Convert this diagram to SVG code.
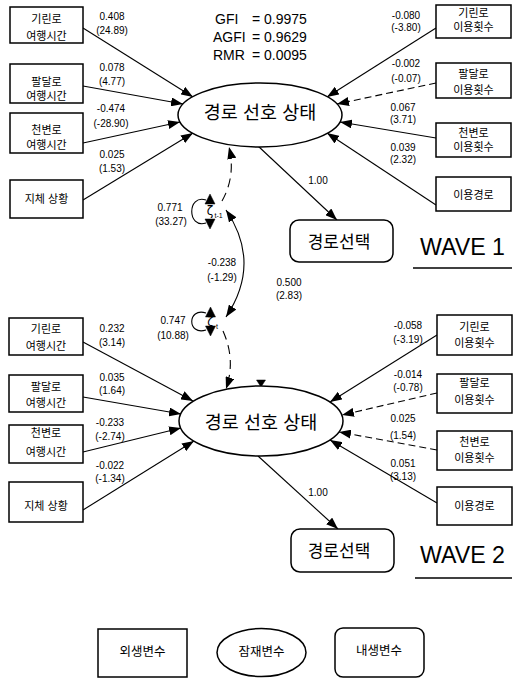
<svg xmlns="http://www.w3.org/2000/svg" width="514" height="679" viewBox="0 0 514 679">
<defs>
<style>
.box{fill:#fff;stroke:#000;stroke-width:1.5}
.ell{fill:#fff;stroke:#000;stroke-width:1.5}
.kr{font-family:"Liberation Sans","Noto Sans CJK KR",sans-serif;fill:#000;text-anchor:middle}
.bt{font-size:11px}
.num{font-family:"Liberation Sans",Arial,sans-serif;font-size:10px;text-anchor:middle;fill:#000}
.fit{font-family:"Liberation Sans",Arial,sans-serif;font-size:14px;fill:#000}
.ln{stroke:#000;stroke-width:1.1;fill:none}
.arr{marker-end:url(#ah)}
.both{marker-start:url(#ah);marker-end:url(#ah)}
.dash{stroke-dasharray:7 4}
.dash2{stroke-dasharray:9 6}
.tri{fill:#000;stroke:#000;stroke-width:0.5}
.z{font-family:"DejaVu Sans",sans-serif;font-size:12px;text-anchor:middle;fill:#000}
.zs{font-family:"Liberation Sans",sans-serif;font-size:7px;fill:#000}
.wave{font-family:"Liberation Sans",Arial,sans-serif;font-size:24px;fill:#000}
</style>
<marker id="ah" viewBox="0 0 12 9" refX="12" refY="4.5" markerWidth="12" markerHeight="9" markerUnits="userSpaceOnUse" orient="auto-start-reverse"><path d="M0,0L12,4.5L0,9z" fill="#000"/></marker>
</defs>

<!-- fit indices -->
<g id="fit">
<text class="fit" x="215" y="24">GFI</text><text class="fit" x="252" y="24">= 0.9975</text>
<text class="fit" x="213" y="42">AGFI</text><text class="fit" x="252" y="42">= 0.9629</text>
<text class="fit" x="213" y="60">RMR</text><text class="fit" x="252" y="60">= 0.0095</text>
</g>

<!-- connectors -->
<g id="connectors">
<line class="ln arr" x1="83" y1="28" x2="193" y2="97"/>
<line class="ln arr" x1="83" y1="86" x2="183" y2="104"/>
<line class="ln arr" x1="83" y1="143" x2="180" y2="122"/>
<line class="ln arr" x1="83" y1="200" x2="193" y2="133"/>
<line class="ln arr" x1="436" y1="28" x2="327" y2="97"/>
<line class="ln arr dash" x1="436" y1="83" x2="337" y2="104"/>
<line class="ln arr" x1="436" y1="138" x2="340" y2="122"/>
<line class="ln arr" x1="436" y1="205" x2="327" y2="133"/>
<line class="ln arr" x1="258" y1="146" x2="337" y2="220"/>

<line class="ln arr" x1="83" y1="342" x2="193" y2="401"/>
<line class="ln arr" x1="83" y1="397" x2="181" y2="414"/>
<line class="ln arr" x1="83" y1="452" x2="181" y2="428"/>
<line class="ln arr" x1="83" y1="510" x2="194" y2="441"/>
<line class="ln arr" x1="437" y1="335" x2="330" y2="402"/>
<line class="ln arr dash" x1="437" y1="393" x2="342" y2="415"/>
<line class="ln arr dash" x1="437" y1="450" x2="339" y2="432"/>
<line class="ln arr" x1="437" y1="503" x2="330" y2="440"/>
<line class="ln arr" x1="258" y1="456" x2="338" y2="529"/>

<path class="ln arr dash2" d="M222,201 Q236,176 229,147"/>
<path class="ln arr dash2" d="M223,331 Q236,360 226,389"/>
<path class="ln both" d="M226,210 Q262,263 226,317"/>
<polygon class="tri" points="256.5,380 265.5,380 261,387"/>

<path class="ln" d="M206,200 C187,194 187,229 206,223"/>
<polygon class="tri" points="205,204 215,204 210,194"/>
<polygon class="tri" points="205,219 215,219 210,229"/>
<path class="ln" d="M206,313 C187,307 187,336 206,330"/>
<polygon class="tri" points="205.5,317 215.5,317 210.5,307"/>
<polygon class="tri" points="205.5,326 215.5,326 210.5,336"/>
</g>

<!-- coefficient labels -->
<g id="labels">
<text class="num" x="112" y="20">0.408</text><text class="num" x="112" y="34">(24.89)</text>
<text class="num" x="112" y="71">0.078</text><text class="num" x="112" y="85">(4.77)</text>
<text class="num" x="111" y="112">-0.474</text><text class="num" x="111" y="127">(-28.90)</text>
<text class="num" x="112" y="158">0.025</text><text class="num" x="112" y="172">(1.53)</text>
<text class="num" x="406" y="19">-0.080</text><text class="num" x="406" y="31">(-3.80)</text>
<text class="num" x="406" y="67">-0.002</text><text class="num" x="406" y="82">(-0.07)</text>
<text class="num" x="403" y="111">0.067</text><text class="num" x="403" y="123">(3.71)</text>
<text class="num" x="403" y="151">0.039</text><text class="num" x="403" y="163">(2.32)</text>
<text class="num" x="318" y="184">1.00</text>

<text class="num" x="170" y="211">0.771</text><text class="num" x="171" y="225">(33.27)</text>
<text class="num" x="222" y="266">-0.238</text><text class="num" x="222" y="281">(-1.29)</text>
<text class="num" x="289" y="286">0.500</text><text class="num" x="289" y="299">(2.83)</text>
<text class="num" x="173" y="324">0.747</text><text class="num" x="173" y="339">(10.88)</text>

<text class="num" x="112" y="332">0.232</text><text class="num" x="112" y="346">(3.14)</text>
<text class="num" x="112" y="381">0.035</text><text class="num" x="112" y="394">(1.64)</text>
<text class="num" x="110" y="426">-0.233</text><text class="num" x="110" y="440">(-2.74)</text>
<text class="num" x="110" y="469">-0.022</text><text class="num" x="110" y="482">(-1.34)</text>
<text class="num" x="408" y="329">-0.058</text><text class="num" x="408" y="343">(-3.19)</text>
<text class="num" x="408" y="378">-0.014</text><text class="num" x="408" y="391">(-0.78)</text>
<text class="num" x="403" y="422">0.025</text><text class="num" x="403" y="439">(1.54)</text>
<text class="num" x="403" y="467">0.051</text><text class="num" x="403" y="480">(3.13)</text>
<text class="num" x="318" y="496">1.00</text>
</g>

<!-- disturbances -->
<g id="zeta1"><text class="z" x="210" y="215">ζ</text><text class="zs" x="214.5" y="218">t-1</text></g>
<g id="zeta2"><text class="z" x="210.5" y="326">ζ</text><text class="zs" x="216" y="329">t</text></g>

<!-- WAVE 1 nodes -->
<g id="w1-x1"><rect class="box" x="10" y="7" width="73" height="36"/><text class="kr bt" x="46.5" y="22.5">기린로</text><text class="kr bt" x="46.5" y="40">여행시간</text></g>
<g id="w1-x2"><rect class="box" x="10" y="64" width="73" height="39"/><text class="kr bt" x="46.5" y="86">팔달로</text><text class="kr bt" x="46.5" y="100">여행시간</text></g>
<g id="w1-x3"><rect class="box" x="10" y="113" width="73" height="40"/><text class="kr bt" x="46.5" y="134">천변로</text><text class="kr bt" x="46.5" y="149">여행시간</text></g>
<g id="w1-x4"><rect class="box" x="10" y="180" width="73" height="38"/><text class="kr bt" x="46.5" y="203">지체 상황</text></g>
<g id="w1-y1"><rect class="box" x="436" y="5" width="75" height="33"/><text class="kr bt" x="473.5" y="17">기린로</text><text class="kr bt" x="473.5" y="31">이용횟수</text></g>
<g id="w1-y2"><rect class="box" x="436" y="63" width="75" height="35"/><text class="kr bt" x="473.5" y="78">팔달로</text><text class="kr bt" x="473.5" y="94">이용횟수</text></g>
<g id="w1-y3"><rect class="box" x="436" y="123" width="75" height="34"/><text class="kr bt" x="473.5" y="136.5">천변로</text><text class="kr bt" x="473.5" y="151">이용횟수</text></g>
<g id="w1-y4"><rect class="box" x="436" y="177" width="75" height="34"/><text class="kr bt" x="473.5" y="199">이용경로</text></g>
<g id="w1-latent"><ellipse class="ell" cx="260" cy="115" rx="82" ry="32"/><text class="kr" x="260" y="118.5" font-size="18.5">경로 선호 상태</text></g>
<g id="w1-choice"><rect class="box" x="290" y="220" width="103" height="42" rx="9"/><text class="kr" x="339" y="248" font-size="17">경로선택</text></g>
<g id="w1-title"><text class="wave" x="420" y="255" textLength="85" lengthAdjust="spacingAndGlyphs">WAVE 1</text><line x1="413" y1="268" x2="512" y2="268" stroke="#000" stroke-width="1.5"/></g>

<!-- WAVE 2 nodes -->
<g id="w2-x1"><rect class="box" x="9" y="318" width="74" height="37"/><text class="kr bt" x="46" y="333">기린로</text><text class="kr bt" x="46" y="350">여행시간</text></g>
<g id="w2-x2"><rect class="box" x="9" y="375" width="74" height="37"/><text class="kr bt" x="46" y="391">팔달로</text><text class="kr bt" x="46" y="406.5">여행시간</text></g>
<g id="w2-x3"><rect class="box" x="9" y="425" width="74" height="38"/><text class="kr bt" x="46" y="437">천변로</text><text class="kr bt" x="46" y="456">여행시간</text></g>
<g id="w2-x4"><rect class="box" x="9" y="482" width="74" height="40"/><text class="kr bt" x="46" y="510">지체 상황</text></g>
<g id="w2-y1"><rect class="box" x="437" y="315" width="75" height="40"/><text class="kr bt" x="474.5" y="331">기린로</text><text class="kr bt" x="474.5" y="347">이용횟수</text></g>
<g id="w2-y2"><rect class="box" x="437" y="374" width="75" height="39"/><text class="kr bt" x="474.5" y="387">팔달로</text><text class="kr bt" x="474.5" y="404">이용횟수</text></g>
<g id="w2-y3"><rect class="box" x="437" y="431" width="75" height="39"/><text class="kr bt" x="474.5" y="446">천변로</text><text class="kr bt" x="474.5" y="462">이용횟수</text></g>
<g id="w2-y4"><rect class="box" x="437" y="487" width="75" height="38"/><text class="kr bt" x="474.5" y="510">이용경로</text></g>
<g id="w2-latent"><ellipse class="ell" cx="261" cy="421" rx="82" ry="35"/><text class="kr" x="261" y="429" font-size="18.5">경로 선호 상태</text></g>
<g id="w2-choice"><rect class="box" x="291" y="529" width="103" height="43" rx="9"/><text class="kr" x="339" y="557" font-size="17">경로선택</text></g>
<g id="w2-title"><text class="wave" x="420" y="563" textLength="85" lengthAdjust="spacingAndGlyphs">WAVE 2</text><line x1="415" y1="578" x2="512" y2="578" stroke="#000" stroke-width="1.5"/></g>

<!-- legend -->
<g id="legend-exo"><rect class="box" x="98" y="629" width="89" height="48"/><text class="kr" x="142.5" y="656" font-size="12.5">외생변수</text></g>
<g id="legend-latent"><ellipse class="ell" cx="261.5" cy="652.5" rx="44.5" ry="24"/><text class="kr" x="261.5" y="656" font-size="12.5">잠재변수</text></g>
<g id="legend-endo"><rect class="box" x="335" y="628" width="89" height="49" rx="8"/><text class="kr" x="379" y="655" font-size="12.5">내생변수</text></g>
</svg>
